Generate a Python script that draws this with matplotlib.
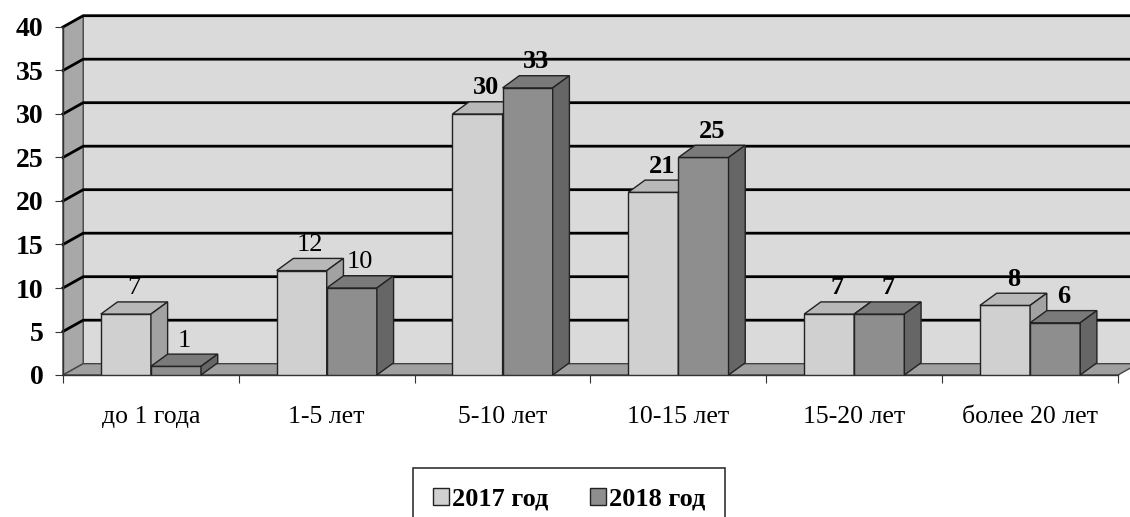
import numpy as np
import matplotlib
matplotlib.use("Agg")
import matplotlib.pyplot as plt
from matplotlib.patches import Polygon, Patch

plt.rcParams['font.family'] = ['Liberation Serif', 'DejaVu Serif']

categories = ["до 1 года", "1-5 лет", "5-10 лет", "10-15 лет", "15-20 лет", "более 20 лет"]
series_names = ["2017 год", "2018 год"]
values_2017 = [7, 12, 30, 21, 7, 8]
values_2018 = [1, 10, 33, 25, 7, 6]
yticks = [0, 5, 10, 15, 20, 25, 30, 35, 40]

# depth offset of the fake 3d (data units)
DX, DY = 0.115, 1.3
BDX, BDY = 0.095, 1.4
W = 0.285

face = {"2017 год": ("#d0d0d0", "#b8b8b8", "#a2a2a2"),
        "2018 год": ("#8e8e8e", "#7a7a7a", "#666666")}

fig = plt.figure(figsize=(11.3, 5.17), dpi=100)
ax = fig.add_axes([63 / 1130, (517 - 375) / 517, (1118 - 63) / 1130, (375 - 27) / 517])
ax.set_xlim(-0.5, 5.5)
ax.set_ylim(0, 40)
for s in ax.spines.values():
    s.set_visible(False)

x0, x1 = -0.5, 5.5
# back wall
ax.add_patch(Polygon([(x0 + DX, DY), (x1 + DX, DY), (x1 + DX, 40 + DY), (x0 + DX, 40 + DY)],
                     closed=True, fc="#dadada", ec="none", clip_on=False, zorder=0))
# left wall
ax.add_patch(Polygon([(x0, 0), (x0 + DX, DY), (x0 + DX, 40 + DY), (x0, 40)],
                     closed=True, fc="#a8a8a8", ec="#444444", lw=1, clip_on=False, zorder=1))
# floor
ax.add_patch(Polygon([(x0, 0), (x1, 0), (x1 + DX, DY), (x0 + DX, DY)],
                     closed=True, fc="#a0a0a0", ec="#444444", lw=1, clip_on=False, zorder=1))
# gridlines
for v in yticks[1:]:
    ax.plot([x0, x0 + DX, x1 + DX], [v, v + DY, v + DY], color="black", lw=2,
            clip_on=False, zorder=1)

# axes lines
ax.plot([x0, x0], [0, 40], color="#333333", lw=1, clip_on=False, zorder=2)
ax.plot([x0, x1], [0, 0], color="#333333", lw=1, clip_on=False, zorder=2)

xs = np.arange(len(categories))
z = 3
for i in range(len(categories)):
    for k, (name, vals) in enumerate([(series_names[0], values_2017), (series_names[1], values_2018)]):
        v = vals[i]
        left = xs[i] - W + k * W
        fc, tc, sc = face[name]
        ax.bar(left, v, width=W, align="edge", color=fc, edgecolor="#222222", lw=1, zorder=z)
        ax.add_patch(Polygon([(left, v), (left + W, v), (left + W + BDX, v + BDY), (left + BDX, v + BDY)],
                             closed=True, fc=tc, ec="#222222", lw=1, zorder=z, clip_on=False))
        ax.add_patch(Polygon([(left + W, 0), (left + W + BDX, BDY), (left + W + BDX, v + BDY), (left + W, v)],
                             closed=True, fc=sc, ec="#222222", lw=1, zorder=z, clip_on=False))
        z += 1
        ax.text(left + W / 2 + BDX / 2, v + BDY + 0.3, str(v), ha="center", va="bottom",
                fontsize=19, fontweight="normal" if i < 2 else "bold", zorder=50)

ax.set_yticks(yticks)
ax.set_yticklabels([str(t) for t in yticks], fontsize=20, fontweight="bold")
ax.set_xticks(np.arange(-0.5, 6.0, 1.0), minor=False)
ax.set_xticklabels([""] * 7)
ax.set_xticks(xs, minor=True)
ax.set_xticklabels(categories, minor=True, fontsize=18.5)
ax.tick_params(axis="x", which="minor", length=0, pad=22)
ax.tick_params(axis="x", which="major", length=6, color="#333333")
ax.tick_params(axis="y", length=6, color="#333333", pad=8)

handles = [Patch(fc=face[n][0], ec="#222222", label=n) for n in series_names]
leg = fig.legend(handles=handles, loc="center", bbox_to_anchor=(569 / 1130, 18 / 517), ncol=2,
                 frameon=True, fancybox=False, edgecolor="black", handlelength=0.6, handleheight=0.6,
                 handletextpad=0.1, columnspacing=1.6, borderpad=0.75,
                 prop={"size": 19, "weight": "bold"})
leg.get_frame().set_linewidth(1.2)

fig.savefig("out.png", dpi=100, facecolor="white")
